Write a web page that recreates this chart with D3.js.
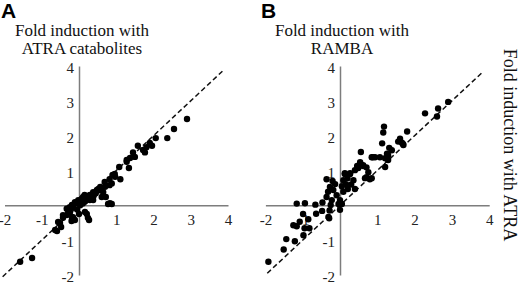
<!DOCTYPE html>
<html>
<head>
<meta charset="utf-8">
<script src="https://cdn.jsdelivr.net/npm/d3@7"></script>
<style>
body { margin: 0; background: #fff; }
.axis path { stroke: #7d7d7d; stroke-width: 1.5; }
.axis line { stroke: #7d7d7d; }
.axis text { font-family: "Liberation Serif", serif; font-size: 15px; fill: #222; }
.title { font-family: "Liberation Serif", serif; font-size: 17px; fill: #111; }
.panelLabel { font-family: "Liberation Sans", Arial, sans-serif; font-weight: bold; font-size: 21px; fill: #000; }
.diag { stroke: #111; stroke-width: 1.5; stroke-dasharray: 5,3; fill: none; }
</style>
</head>
<body>
<div id="chart"></div>
<script>
var width = 520;
var height = 284;

// [ATRA, catabolites]
var pointsA = [
  [2.90,2.48],[2.55,2.19],[2.37,1.93],[2.06,1.93],[1.90,1.79],[1.96,1.71],[1.81,1.67],[1.72,1.59],
  [1.77,1.52],[1.58,1.71],[1.45,1.52],[1.50,1.39],[1.37,1.36],[1.28,1.25],[1.34,1.07],[1.08,1.10],
  [1.28,1.30],[0.97,0.82],[1.11,0.75],[0.96,0.90],[0.90,0.87],[0.82,0.75],[0.88,0.63],[0.70,0.53],
  [0.69,0.67],[0.82,0.58],[0.57,0.53],[0.56,0.43],[0.48,0.44],[0.65,0.38],[0.38,0.38],[0.61,0.24],
  [0.72,0.24],[0.38,0.24],[0.29,0.30],[0.20,0.24],[0.29,0.15],[0.38,0.15],[0.78,0.04],[0.88,0.04],
  [0.83,0.06],[0.11,0.24],[0.08,0.20],[-0.02,0.15],[0.05,0.08],[-0.11,0.09],[-0.06,0.06],[0.03,0.00],
  [-0.19,0.01],[-0.16,-0.05],[-0.33,-0.10],[-0.29,-0.19],[-0.24,-0.19],[-0.33,-0.28],[-0.43,-0.28],
  [-0.43,-0.36],[-0.19,-0.34],[-0.16,-0.34],[-0.11,-0.42],[0.16,-0.19],[0.21,-0.25],[0.24,-0.36],
  [0.27,-0.42],[-0.51,-0.51],[-0.56,-0.48],[-0.48,-0.62],[-0.59,-0.74],[-0.64,-0.71],[-1.58,-1.62],
  [-1.26,-1.51],[0.45,0.35],[0.52,0.47],[0.15,0.10],[-0.05,-0.12],[-0.25,-0.05],[0.00,-0.25],
  [0.40,0.30],[0.60,0.45],[0.10,0.05],[-0.20,-0.45],[0.15,0.30],[0.16,0.12]
];

// [ATRA, RAMBA]
var pointsB = [
  [-1.92,-1.62],[-1.51,-1.27],[-1.44,-0.97],[-1.21,-1.03],[-1.25,-0.57],[-1.16,-0.60],[-1.08,-0.47],
  [-0.99,-0.25],[-0.98,-0.86],[-0.95,-0.66],[-0.85,-0.40],[-0.82,-0.66],[-1.16,0.05],[-0.94,0.06],
  [-0.66,0.02],[-0.64,-0.24],[-0.48,-0.16],[-0.47,0.08],[-0.36,0.24],[-0.32,0.39],[-0.27,0.53],
  [-0.36,0.75],[-0.22,0.15],[-0.25,0.01],[-0.28,-0.15],[-0.31,-0.33],[-0.18,0.44],[-0.13,0.61],
  [-0.09,0.29],[0.00,0.15],[-0.04,0.04],[0.05,0.04],[0.00,-0.13],[0.09,0.72],[0.13,0.90],[0.20,0.78],
  [0.27,0.90],[0.16,0.61],[0.21,0.47],[0.09,0.39],[0.40,0.47],[0.36,0.72],[0.49,1.07],[0.54,1.24],
  [0.62,1.15],[0.71,1.09],[0.76,0.95],[0.71,0.81],[0.80,0.75],[0.94,1.38],[1.07,1.38],[0.85,1.38],
  [1.29,1.44],[1.29,1.30],[1.21,1.10],[1.39,1.58],[1.69,1.76],[2.90,2.97],[2.63,2.78],[2.60,2.55],
  [2.28,2.64],[1.80,2.12],[1.61,1.91],[1.56,1.83],[1.66,1.80],[1.70,1.73],[1.18,2.26],[1.16,2.09],
  [1.13,1.78],[1.32,1.65],[1.26,1.48],[1.21,1.35],[0.56,1.53],[0.88,1.38],[0.54,1.21],[0.46,1.13],
  [0.62,1.13],[0.40,1.01],[0.85,0.78],[0.67,0.78],[0.13,0.92],[0.27,0.92],[-0.29,-0.37],
  [-0.20,0.70],[0.05,0.55],[0.30,0.60]
];

// identity lines (y = x)
var diagA = [[-2.05,-2.05],[3.85,3.85]];
var diagB = [[-1.95,-1.95],[3.85,3.85]];

var axisDomain = [-2, 4];
var tickVals = [-2, -1, 1, 2, 3, 4];
var tickLabels = ["-2", "-1", "1", "2", "3", "4"];

var titleA = ["Fold induction with", "ATRA catabolites"];
var titleB = ["Fold induction with", "RAMBA"];
var sideTitle = "Fold induction with ATRA";


var svg = d3.select("#chart")
            .append("svg")
            .attr("width", width)
            .attr("height", height);

function panel(points, diag, title, letter, x0, x1, letterX, titleX){

  var xScale = d3.scaleLinear()
                 .domain(axisDomain)
                 .range([x0, x1]);

  var yScale = d3.scaleLinear()
                 .domain(axisDomain)
                 .range([275, 66]);

  var xAxis = d3.axisBottom(xScale)
                .tickValues(tickVals)
                .tickFormat(function(d, i){ return tickLabels[i]; })
                .tickSizeInner(0)
                .tickSizeOuter(0)
                .tickPadding(9);

  var yAxis = d3.axisLeft(yScale)
                .tickValues(tickVals)
                .tickFormat(function(d, i){ return tickLabels[i]; })
                .tickSizeInner(0)
                .tickSizeOuter(0)
                .tickPadding(5);

  svg.append("g")
     .attr("class", "axis")
     .attr("transform", "translate(0," + yScale(0) + ")")
     .call(xAxis);

  var gy = svg.append("g")
     .attr("class", "axis")
     .attr("transform", "translate(" + xScale(0) + ",0)")
     .call(yAxis);
  gy.selectAll("text").attr("dy", "0.45em");

  svg.append("g").selectAll("text")
     .data(title)
     .enter()
     .append("text")
     .attr("class", "title")
     .attr("text-anchor", "middle")
     .attr("x", titleX)
     .attr("y", function(d, i){ return 36 + i * 18; })
     .text(function(d){ return d; });

  svg.append("text")
     .attr("class", "panelLabel")
     .attr("x", letterX)
     .attr("y", 18)
     .text(letter);

  var line = d3.line()
               .x(function(d){ return xScale(d[0]); })
               .y(function(d){ return yScale(d[1]); });

  svg.append("path")
     .datum(diag)
     .attr("class", "diag")
     .attr("d", line);

  svg.append("g").selectAll("circle")
     .data(points)
     .enter()
     .append("circle")
     .attr("cx", function(d){ return xScale(d[0]); })
     .attr("cy", function(d){ return yScale(d[1]); })
     .attr("r", 3.2)
     .attr("fill", "#000");
}

panel(pointsA, diagA, titleA, "A", 4.5, 228, 1, 82);
panel(pointsB, diagB, titleB, "B", 265.4, 489.2, 261, 342);

// shared y title on the right
svg.append("text")
   .attr("class", "title")
   .style("font-size", "18px")
   .attr("text-anchor", "middle")
   .attr("transform", "translate(504,145) rotate(90)")
   .text(sideTitle);
</script>
</body>
</html>
